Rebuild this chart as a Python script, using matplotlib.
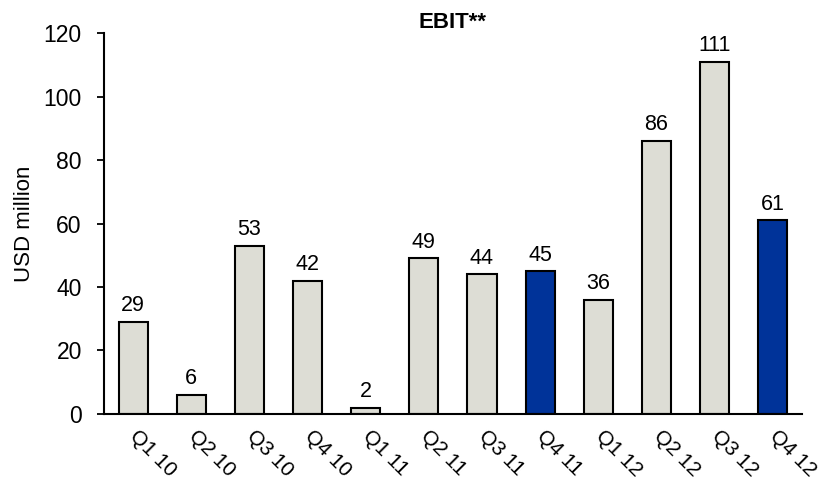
import matplotlib
matplotlib.use("Agg")
import matplotlib.pyplot as plt

plt.rcParams['font.family'] = ['Liberation Sans', 'DejaVu Sans']

quarters = ["Q1 10", "Q2 10", "Q3 10", "Q4 10", "Q1 11", "Q2 11",
            "Q3 11", "Q4 11", "Q1 12", "Q2 12", "Q3 12", "Q4 12"]
ebit = [29, 6, 53, 42, 2, 49, 44, 45, 36, 86, 111, 61]
highlight = ["Q4 11", "Q4 12"]

grey = "#DDDDD5"
blue = "#003399"
colors = [blue if q in highlight else grey for q in quarters]

fig = plt.figure(figsize=(8.19, 4.87), dpi=100)
ax = fig.add_axes([0.127, 0.150, 0.852, 0.782])

x = range(len(quarters))
ax.bar(x, ebit, width=0.5, color=colors, edgecolor="black", linewidth=1.5, zorder=2)

for xi, v in zip(x, ebit):
    ax.annotate(f"{v}", (xi, v), xytext=(0, 4), textcoords="offset points",
                ha="center", va="bottom", fontsize=15.5)

ax.set_xlim(-0.5, len(quarters) - 0.5)
ax.set_ylim(0, 120)
ax.set_yticks(range(0, 121, 20))
ax.tick_params(axis="y", labelsize=16.5, length=5, width=1.3, direction="out", pad=11)
ax.tick_params(axis="x", length=0, pad=14)
ax.set_xticks(list(x))
ax.set_xticklabels(quarters, rotation=-45, ha="left", va="center",
                   rotation_mode="anchor", fontsize=15)

for side in ("top", "right"):
    ax.spines[side].set_visible(False)
ax.spines["left"].set_linewidth(1.5)
ax.spines["bottom"].set_linewidth(1.5)

ax.set_ylabel("USD million", fontsize=16, labelpad=6)
ax.set_title("EBIT**", fontsize=16, fontweight="bold", pad=3)

fig.savefig("out.png", dpi=100)
